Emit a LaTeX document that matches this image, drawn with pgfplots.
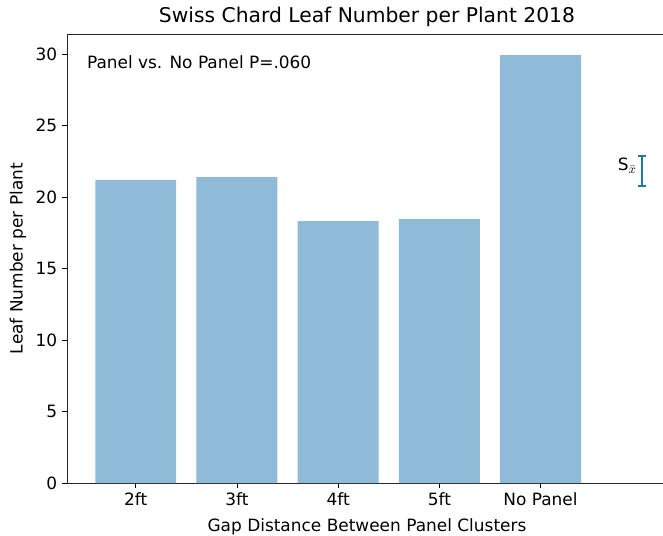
\documentclass[border=0pt]{standalone}
\usepackage{fontspec}
\setmainfont{DejaVu Sans}
\usepackage{pgfplots}
\pgfplotsset{compat=1.18}
\usetikzlibrary{calc}
\definecolor{barblue}{HTML}{8FBBD9}
\definecolor{tabblue}{HTML}{1F77B4}
\begin{document}
\begin{tikzpicture}
\begin{axis}[
  scale only axis,
  width=432pt, height=323.3pt,
  xmin=-0.68, xmax=5.25,
  ymin=0, ymax=31.4,
  xtick={0,1,2,3,4},
  xticklabels={2ft,3ft,4ft,5ft,No Panel},
  ytick={0,5,10,15,20,25,30},
  tick align=outside,
  tick pos=left,
  major tick length=3.5pt,
  every tick/.style={black, line width=0.6pt},
  axis line style={line width=0.6pt, black!85},
  /pgf/number format/assume math mode=true,
  tick label style={font=\fontsize{12.2}{14}\selectfont},
  label style={font=\fontsize{12.2}{14}\selectfont},
  title={Swiss Chard Leaf Number per Plant 2018},
  title style={font=\fontsize{14.6}{17}\selectfont, yshift=-4pt},
  xlabel={Gap Distance Between Panel Clusters},
  ylabel={Leaf Number per Plant},
  xlabel style={yshift=-2pt},
  ylabel style={yshift=0pt},
  clip=false,
]
\addplot[ybar, bar width=0.8, bar shift=0pt, fill=barblue, draw=none] coordinates {
  (0,21.19) (1,21.40) (2,18.32) (3,18.46) (4,29.93)
};
\addplot[tabblue, line width=1.2pt, mark=none, draw=none,
  error bars/.cd, y dir=both, y explicit,
  error bar style={tabblue, line width=1.2pt},
  error mark options={tabblue, rotate=90, mark size=3pt, line width=1.2pt}]
  coordinates {(5,21.82) +- (0,1.05)};
\node[anchor=west, font=\fontsize{12.2}{14}\selectfont] at (axis cs:-0.53,29.4) {Panel vs. No Panel P=.060};
\node[anchor=east, font=\fontsize{12.2}{14}\selectfont] at (axis cs:4.99,22.2) {S\raisebox{-0.3ex}{\fontsize{9}{10}\selectfont$\bar{x}$}};
\coordinate (sw) at (rel axis cs:0,0);
\coordinate (ne) at (rel axis cs:1,1);
\end{axis}
\pgfresetboundingbox
\path[use as bounding box] ($(sw)+(-48.2pt,-37.4pt)$) rectangle ($(ne)+(-2.9pt,24.5pt)$);
\end{tikzpicture}
\end{document}
